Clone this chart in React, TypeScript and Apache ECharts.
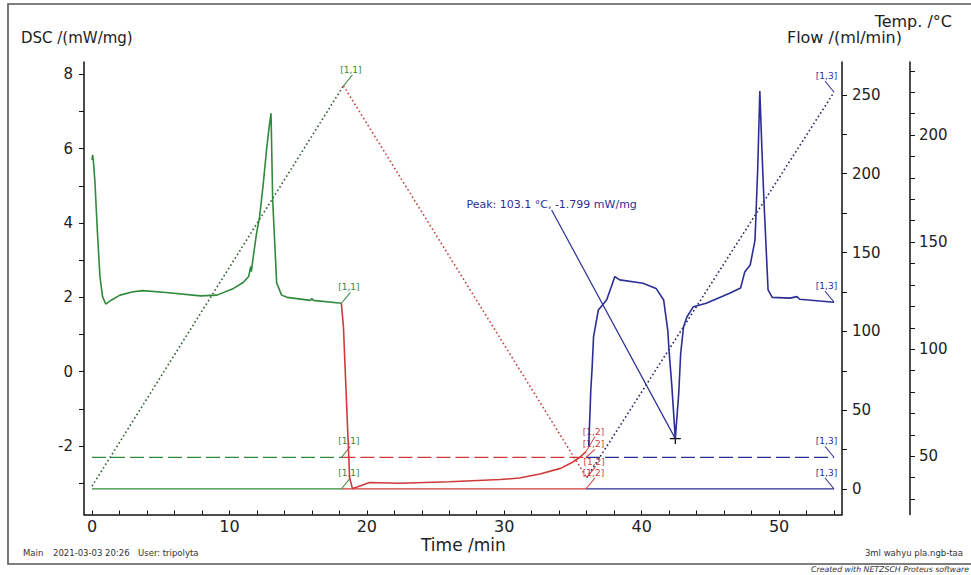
import React, { useEffect, useRef } from "react";
import * as echarts from "echarts";

// ---------- axis ticks / labels ----------
const TIME_LABELS = [0, 10, 20, 30, 40, 50];
const TIME_TICKS = [0, 2, 4, 6, 8, 10, 12, 14, 16, 18, 20, 22, 24, 26, 28, 30, 32, 34, 36, 38, 40, 42, 44, 46, 48, 50, 52, 54];
const DSC_LABELS = [-2, 0, 2, 4, 6, 8];
const DSC_TICKS = [-3, -2, -1, 0, 1, 2, 3, 4, 5, 6, 7, 8];
const FLOW_LABELS = [0, 50, 100, 150, 200, 250];
const FLOW_TICKS = [0, 25, 50, 75, 100, 125, 150, 175, 200, 225, 250];
const TEMP_LABELS = [50, 100, 150, 200];
const TEMP_TICKS = [30, 40, 50, 60, 70, 80, 90, 100, 110, 120, 130, 140, 150, 160, 170, 180, 190, 200, 210, 220, 230];

// ---------- data ----------
// segment boundaries (min): heating 1 / cooling / heating 2
const SEGMENT_BOUNDS = [0, 18.15, 35.95, 54.0];
const SEGMENT_NAMES = ["[1,1]", "[1,2]", "[1,3]"];
const FLOW_PROTECTIVE = 20; // ml/min (dashed)
const FLOW_PURGE = 0; // ml/min (solid)

// temperature program vertices [time, °C]
const TEMP_PROGRAM: [number, number][] = [
  [0, 36],
  [18.3, 223],
  [36.0, 40],
  [54.0, 220],
];

// DSC, segment 1 (heating) [time, mW/mg]
const DSC_SEG1: [number, number][] = [
  [0.0, 5.7], [0.05, 5.83], [0.12, 5.6], [0.22, 5.07], [0.4, 3.73], [0.58, 2.56],
  [0.77, 2.02], [1.0, 1.82], [1.43, 1.93], [2.04, 2.06], [3.0, 2.15], [3.7, 2.18],
  [5.4, 2.13], [7.9, 2.04], [9.1, 2.06], [10.3, 2.24], [11.0, 2.4], [11.4, 2.56],
  [11.55, 2.83], [11.6, 2.69], [11.74, 3.1], [11.98, 3.73], [12.2, 4.17],
  [12.47, 5.07], [12.7, 5.96], [12.9, 6.6], [13.03, 6.95], [13.15, 4.62],
  [13.44, 2.39], [13.8, 2.06], [14.2, 2.0], [15.9, 1.92], [16.0, 1.97],
  [16.1, 1.92], [18.15, 1.84],
];

// DSC, segment 2 (cooling)
const DSC_SEG2: [number, number][] = [
  [18.15, 1.84], [18.3, 1.2], [18.5, -0.6], [18.75, -2.85], [18.95, -3.14],
  [19.3, -3.1], [20.2, -2.98], [22.4, -3.0], [26.0, -2.96], [29.7, -2.9],
  [31.1, -2.86], [32.6, -2.75], [34.1, -2.6], [34.9, -2.45], [35.5, -2.3],
  [35.95, -2.15],
];

// DSC, segment 3 (heating)
const DSC_SEG3: [number, number][] = [
  [36.15, -2.0], [36.3, -0.5], [36.4, 0.13], [36.5, 0.94], [36.85, 1.66],
  [37.45, 1.93], [37.8, 2.29], [38.05, 2.56], [38.4, 2.47], [40.1, 2.38],
  [41.05, 2.24], [41.6, 1.93], [41.9, 1.12], [42.0, 0.54], [42.2, -0.4],
  [42.45, -1.799], [42.7, -0.58], [42.84, 0.49], [43.05, 1.21], [43.3, 1.48],
  [43.77, 1.75], [44.7, 1.84], [46.4, 2.11], [47.2, 2.25], [47.5, 2.68],
  [47.9, 2.87], [48.25, 3.54], [48.45, 5.5], [48.6, 7.55], [48.75, 6.0],
  [48.9, 4.6], [49.2, 2.2], [49.5, 2.0], [50.8, 1.98], [51.3, 2.02],
  [51.5, 1.95], [54.0, 1.87],
];

const PEAK: [number, number] = [42.45, -1.799];
const PEAK_TEXT = "Peak: 103.1 °C, -1.799 mW/mg";
const PEAK_TEXT_ANCHOR: [number, number] = [33.45, 4.35];

// ---------- styles ----------
const FONT = "DejaVu Sans";
const SEG_COLORS = ["#2f8a3c", "#d03a3a", "#2b2f95"];
const TEMP_COLORS = ["#2e5e35", "#c84040", "#25285e"];
const AXIS_COLOR = "#111";
const LABEL_COLOR = "#222";

function segMark(t: number, v: number, text: string, color: string, dir: number, lift = 0) {
  return {
    coord: [t, v],
    symbol: dir > 0 ? "path://M0,10L10,0" : "path://M0,0L10,10",
    symbolSize: [9, 11 + lift],
    symbolOffset: [dir * 4.5, -(11 + lift) / 2],
    itemStyle: { color: "transparent", borderColor: color, borderWidth: 1 },
    label: {
      show: true,
      position: "top",
      distance: 0,
      formatter: text,
      color,
      fontSize: 9,
      fontFamily: FONT,
      offset: [dir * 3, 0],
    },
  };
}

function lineSeries(
  name: string,
  data: [number, number][],
  yAxisIndex: number,
  color: string,
  type: any,
  width: number,
  markPoints: any[],
  extra: any = {}
) {
  return {
    name,
    type: "line",
    data,
    yAxisIndex,
    showSymbol: false,
    symbol: "none",
    silent: true,
    lineStyle: { color, width, type, cap: "butt" },
    markPoint: markPoints.length
      ? { silent: true, animation: false, data: markPoints }
      : undefined,
    z: 3,
    ...extra,
  };
}

export default function App() {
  const ref = useRef<HTMLDivElement>(null);

  useEffect(() => {
    if (!ref.current) return;
    const chart = echarts.init(ref.current, undefined, { renderer: "svg" });

    const series: any[] = [];

    // flow lines (protective 20 dashed, purge 0 solid), per segment
    for (let i = 0; i < 3; i++) {
      const a = SEGMENT_BOUNDS[i];
      const b = SEGMENT_BOUNDS[i + 1];
      const c = SEG_COLORS[i];
      const dir = i === 2 ? -1 : 1;
      series.push(
        lineSeries(
          "flow-protective-" + i,
          [[a, FLOW_PROTECTIVE], [b, FLOW_PROTECTIVE]],
          1,
          c,
          [14, 5],
          1.3,
          [segMark(b, FLOW_PROTECTIVE, SEGMENT_NAMES[i], c, dir, i === 1 ? -3 : 0)]
        )
      );
      series.push(
        lineSeries(
          "flow-purge-" + i,
          [[a, FLOW_PURGE], [b, FLOW_PURGE]],
          1,
          c,
          "solid",
          1.3,
          [segMark(b, FLOW_PURGE, SEGMENT_NAMES[i], c, dir)]
        )
      );
    }

    // temperature program, dotted, per segment
    for (let i = 0; i < 3; i++) {
      const p0 = TEMP_PROGRAM[i];
      const p1 = TEMP_PROGRAM[i + 1];
      const dir = i === 2 ? -1 : 1;
      series.push(
        lineSeries(
          "temp-" + i,
          [p0, p1],
          2,
          TEMP_COLORS[i],
          [1.6, 2.6],
          1.6,
          [segMark(p1[0], p1[1], SEGMENT_NAMES[i], SEG_COLORS[i], dir, i === 1 ? 0 : 0)]
        )
      );
    }

    // DSC curves
    const dscSegs = [DSC_SEG1, DSC_SEG2, DSC_SEG3];
    for (let i = 0; i < 3; i++) {
      const seg = dscSegs[i];
      const last = seg[seg.length - 1];
      const dir = i === 2 ? -1 : 1;
      const marks: any[] = [segMark(last[0], last[1], SEGMENT_NAMES[i], SEG_COLORS[i], dir, i === 1 ? 4 : 0)];
      let extra: any = { z: 5 };
      if (i === 2) {
        marks.push({
          coord: PEAK,
          symbol: "path://M0,5L10,5M5,0L5,10",
          symbolSize: 11,
          itemStyle: { color: "transparent", borderColor: "#111", borderWidth: 1.3 },
          label: { show: false },
        });
        marks.push({
          coord: PEAK_TEXT_ANCHOR,
          symbol: "circle",
          symbolSize: 0,
          itemStyle: { color: "transparent" },
          label: {
            show: true,
            position: "inside",
            offset: [0, -5],
            formatter: PEAK_TEXT,
            color: SEG_COLORS[2],
            fontSize: 11,
            fontFamily: FONT,
          },
        });
        extra = {
          z: 5,
          markLine: {
            silent: true,
            animation: false,
            symbol: ["none", "none"],
            lineStyle: { color: SEG_COLORS[2], width: 1.2, type: "solid" },
            label: { show: false },
            data: [[{ coord: PEAK_TEXT_ANCHOR }, { coord: PEAK }]],
          },
        };
      }
      series.push(lineSeries("dsc-" + i, seg, 0, SEG_COLORS[i], "solid", 1.6, marks, extra));
    }

    const tickLabel = { color: LABEL_COLOR, fontSize: 15, fontFamily: FONT };

    chart.setOption({
      animation: false,
      backgroundColor: "#ffffff",
      textStyle: { fontFamily: FONT },
      grid: { left: 84, top: 62, right: 129, bottom: 60.5, containLabel: false },
      xAxis: {
        type: "value",
        min: -0.58,
        max: 54.58,
        axisLine: { show: true, onZero: false, lineStyle: { color: AXIS_COLOR, width: 1.5 } },
        axisTick: { show: true, inside: true, length: 4, customValues: TIME_TICKS, lineStyle: { color: AXIS_COLOR } },
        axisLabel: { ...tickLabel, fontSize: 16, margin: 4, customValues: TIME_LABELS },
        splitLine: { show: false },
      },
      yAxis: [
        {
          type: "value",
          min: -3.84,
          max: 8.33,
          position: "left",
          axisLine: { show: true, onZero: false, lineStyle: { color: AXIS_COLOR, width: 1.5 } },
          axisTick: { show: true, inside: false, length: 5, customValues: DSC_TICKS, lineStyle: { color: AXIS_COLOR } },
          axisLabel: { ...tickLabel, margin: 11, customValues: DSC_LABELS },
          splitLine: { show: false },
        },
        {
          type: "value",
          min: -16.2,
          max: 270.9,
          position: "right",
          offset: 0,
          axisLine: { show: true, onZero: false, lineStyle: { color: AXIS_COLOR, width: 1.5 } },
          axisTick: { show: true, inside: false, length: 5, customValues: FLOW_TICKS, lineStyle: { color: AXIS_COLOR } },
          axisLabel: { ...tickLabel, margin: 10, customValues: FLOW_LABELS },
          splitLine: { show: false },
        },
        {
          type: "value",
          min: 22.8,
          max: 234.1,
          position: "right",
          offset: 68,
          axisLine: { show: true, onZero: false, lineStyle: { color: AXIS_COLOR, width: 1.5 } },
          axisTick: { show: true, inside: false, length: 5, customValues: TEMP_TICKS, lineStyle: { color: AXIS_COLOR } },
          axisLabel: { ...tickLabel, margin: 9, customValues: TEMP_LABELS },
          splitLine: { show: false },
        },
      ],
      graphic: [
        {
          type: "rect",
          silent: true,
          shape: { x: 8, y: 4, width: 1100, height: 560 },
          style: { fill: "none", stroke: "#555", lineWidth: 1.6 },
          z: -1,
        },
        {
          type: "text",
          style: { text: "DSC /(mW/mg)", x: 21, y: 38, fontSize: 15, fontFamily: FONT, fill: LABEL_COLOR, align: "left", verticalAlign: "middle" },
        },
        {
          type: "text",
          style: { text: "Flow /(ml/min)", x: 902, y: 37, fontSize: 16, fontFamily: FONT, fill: LABEL_COLOR, align: "right", verticalAlign: "middle" },
        },
        {
          type: "text",
          style: { text: "Temp. /°C", x: 952, y: 21, fontSize: 16, fontFamily: FONT, fill: LABEL_COLOR, align: "right", verticalAlign: "middle" },
        },
        {
          type: "text",
          style: { text: "Time /min", x: 421, y: 545, fontSize: 17, fontFamily: FONT, fill: LABEL_COLOR, align: "left", verticalAlign: "middle" },
        },
        {
          type: "text",
          style: { text: "Main", x: 23, y: 553, fontSize: 8.5, fontFamily: FONT, fill: "#333", align: "left", verticalAlign: "middle" },
        },
        {
          type: "text",
          style: { text: "2021-03-03 20:26", x: 53, y: 553, fontSize: 8.5, fontFamily: FONT, fill: "#333", align: "left", verticalAlign: "middle" },
        },
        {
          type: "text",
          style: { text: "User: tripolyta", x: 138, y: 553, fontSize: 8.5, fontFamily: FONT, fill: "#333", align: "left", verticalAlign: "middle" },
        },
        {
          type: "text",
          style: { text: "3ml wahyu pla.ngb-taa", x: 963, y: 553, fontSize: 8.5, fontFamily: FONT, fill: "#333", align: "right", verticalAlign: "middle" },
        },
        {
          type: "text",
          style: { text: "Created with NETZSCH Proteus software", x: 969, y: 569.5, fontSize: 7.8, fontStyle: "italic", fontFamily: FONT, fill: "#333", align: "right", verticalAlign: "middle" },
        },
      ],
      series,
    });

    return () => chart.dispose();
  }, []);

  return (
    <div
      ref={ref}
      style={{ position: "fixed", left: 0, top: 0, width: 971, height: 575, background: "#fff" }}
    />
  );
}
